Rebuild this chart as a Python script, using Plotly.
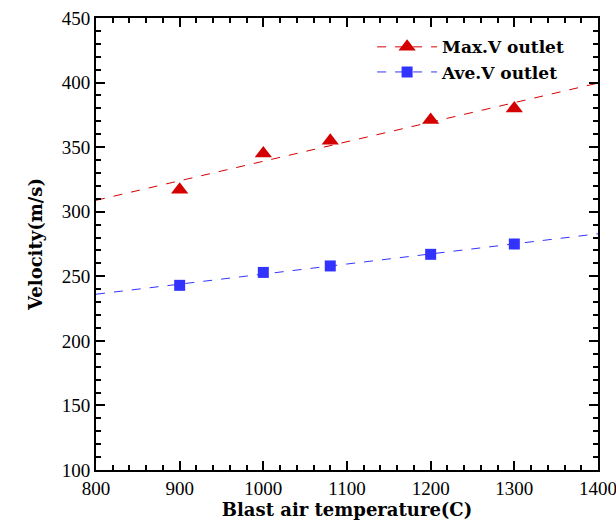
import numpy as np
import plotly.graph_objects as go

temps = [900, 1000, 1080, 1200, 1300]
max_v = [317, 345, 355, 371, 380]
ave_v = [243, 253, 258, 267, 275]
fit_x = [800, 1400]

red = "#d40000"
blue = "#3333ff"

def linfit(x, y, xs):
    k, b = np.polyfit(x, y, 1)
    return [k * v + b for v in xs]

fig = go.Figure()
fig.add_trace(go.Scatter(x=fit_x, y=linfit(temps, max_v, fit_x), mode="lines",
                         line=dict(color=red, width=1, dash="dash"), showlegend=False))
fig.add_trace(go.Scatter(x=fit_x, y=linfit(temps, ave_v, fit_x), mode="lines",
                         line=dict(color=blue, width=1, dash="dash"), showlegend=False))
fig.add_trace(go.Scatter(x=temps, y=max_v, mode="markers", showlegend=False,
                         marker=dict(symbol="triangle-up", size=15, color=red)))
fig.add_trace(go.Scatter(x=temps, y=ave_v, mode="markers", showlegend=False,
                         marker=dict(symbol="square", size=11, color=blue)))
fig.add_trace(go.Scatter(x=[None], y=[None], mode="lines+markers", name="<b>Max.V outlet</b>",
                         line=dict(color=red, width=1, dash="dash"),
                         marker=dict(symbol="triangle-up", size=15, color=red)))
fig.add_trace(go.Scatter(x=[None], y=[None], mode="lines+markers", name="<b>Ave.V outlet</b>",
                         line=dict(color=blue, width=1, dash="dash"),
                         marker=dict(symbol="square", size=11, color=blue)))

axis_common = dict(showline=True, linecolor="black", linewidth=2, mirror="ticks",
                   ticks="inside", ticklen=9, tickwidth=2, tickcolor="black",
                   showgrid=False, zeroline=False, automargin=False,
                   ticklabeloverflow="allow",
                   tickfont=dict(family="Liberation Serif", size=19, color="black"))

fig.update_xaxes(range=[800, 1400], dtick=100, **axis_common,
                 minor=dict(ticks="inside", ticklen=5, tickcolor="black", tickwidth=1.5, dtick=20),
                 title=dict(text="<b>Blast air temperature(C)</b>",
                            font=dict(family="DejaVu Serif", size=18, color="black"),
                            standoff=2))
fig.update_yaxes(range=[100, 450], dtick=50, **axis_common,
                 minor=dict(ticks="inside", ticklen=5, tickcolor="black", tickwidth=1.5, dtick=10),
                 title=dict(text="<b>Velocity(m/s)</b>",
                            font=dict(family="DejaVu Serif", size=18, color="black"),
                            standoff=14))

fig.update_layout(
    width=616, height=528,
    margin=dict(l=96, r=18, t=18, b=58),
    plot_bgcolor="white", paper_bgcolor="white",
    legend=dict(x=0.55, y=0.975, xanchor="left", yanchor="top",
                bgcolor="rgba(0,0,0,0)",
                font=dict(family="DejaVu Serif", size=17, color="black"),
                itemwidth=60, tracegroupgap=8),
)

fig.write_html("out.html", config={"displayModeBar": False},
               post_script="document.body.style.margin='0';document.body.style.padding='0';")
